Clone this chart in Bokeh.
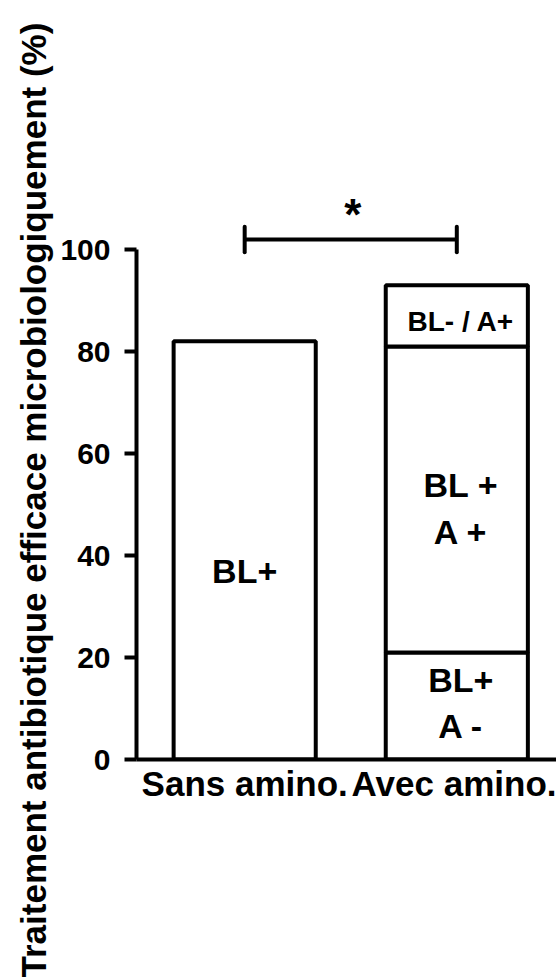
from bokeh.plotting import figure
from bokeh.models import Range1d, FixedTicker, Title
from bokeh.core.properties import value
from bokeh.embed import file_html
from bokeh.resources import INLINE

# ---- data ----
groups = ["Sans amino.", "Avec amino."]
sans_total = [82]                       # Sans amino.: BL+
avec_labels = ["BL+\nA -", "BL +\nA +", "BL- / A+"]
avec_parts = [21, 60, 12]               # stacked segments (sum 93)
y_ticks = [0, 20, 40, 60, 80, 100]
sig_text = "*"
sig_y = 102
y_title = "Traitement antibiotique efficace microbiologiquement (%)"

FONT = "Liberation Sans"
x_pos = [1, 2]

p = figure(width=556, height=978, output_backend="svg", toolbar_location=None,
           x_range=Range1d(0.49, 2.47), y_range=Range1d(0, 111),
           min_border_left=136, min_border_right=0,
           min_border_top=193, min_border_bottom=219)
p.outline_line_color = None
p.grid.visible = False
p.background_fill_color = "white"

bw = 0.67
LW = 4

# bar 1
p.vbar(x=[x_pos[0]], top=sans_total, bottom=[0], width=bw,
       fill_color="white", line_color="black", line_width=LW)
p.text(x=[x_pos[0]], y=[sans_total[0] * 0.45], text=["BL+"],
       text_align="center", text_baseline="middle",
       text_font=value(FONT), text_font_style="bold", text_font_size="34px",
       text_color="black")

# bar 2 stacked
bottoms = []
tops = []
acc = 0
for v in avec_parts:
    bottoms.append(acc)
    acc += v
    tops.append(acc)
p.vbar(x=[x_pos[1]] * len(avec_parts), bottom=bottoms, top=tops, width=bw,
       fill_color="white", line_color="black", line_width=LW)

# segment labels
lab_y = [bottoms[0] + 0.53 * avec_parts[0],
         bottoms[1] + 0.47 * avec_parts[1],
         bottoms[2] + 0.40 * avec_parts[2]]
sizes = ["34px", "34px", "28px"]
for lbl, ly, fs in zip(avec_labels, lab_y, sizes):
    p.text(x=[x_pos[1]], y=[ly], text=[lbl], x_offset=4,
           text_align="center", text_baseline="middle", text_line_height=1.22,
           text_font=value(FONT), text_font_style="bold", text_font_size=fs,
           text_color="black")

# significance bracket
p.segment(x0=[x_pos[0]], x1=[x_pos[1]], y0=[sig_y], y1=[sig_y],
          line_color="black", line_width=LW)
p.segment(x0=x_pos, x1=x_pos, y0=[sig_y - 2.5] * 2, y1=[sig_y + 2.5] * 2,
          line_color="black", line_width=LW, line_cap="round")
p.text(x=[sum(x_pos) / 2], y=[sig_y + 4.8], text=[sig_text], x_offset=2,
       text_align="center", text_baseline="middle",
       text_font=value(FONT), text_font_style="bold",
       text_font_size="44px", text_color="black")

# axes
xa = p.xaxis[0]
xa.ticker = FixedTicker(ticks=x_pos)
xa.major_label_overrides = {x: g for x, g in zip(x_pos, groups)}
xa.major_tick_line_color = None
xa.major_tick_out = 0
xa.major_tick_in = 0
xa.minor_tick_line_color = None
xa.axis_line_width = LW
xa.major_label_text_font = FONT
xa.major_label_text_font_style = "bold"
xa.major_label_text_font_size = "35px"
xa.major_label_text_color = "black"
xa.major_label_standoff = 4

ya = p.yaxis[0]
ya.ticker = FixedTicker(ticks=y_ticks)
ya.bounds = (0, 100)
ya.minor_tick_line_color = None
ya.major_tick_in = 0
ya.major_tick_out = 12
ya.major_tick_line_width = LW
ya.axis_line_width = LW
ya.major_label_text_font = FONT
ya.major_label_text_font_style = "bold"
ya.major_label_text_font_size = "30px"
ya.major_label_text_color = "black"
ya.major_label_standoff = 14

# y title as a left-side title so it can extend past the frame
p.add_layout(Title(text=y_title, align="left", offset=-218,
                   text_font=FONT, text_font_style="bold",
                   text_font_size="35px", text_color="black",
                   standoff=10), "left")

open("out.html", "w").write(file_html(p, INLINE))
